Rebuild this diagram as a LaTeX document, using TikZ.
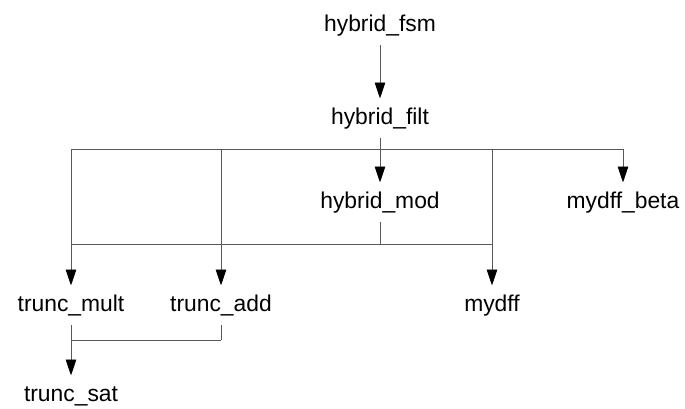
\documentclass[tikz,border=0pt]{standalone}
\usepackage{fontspec}
\setmainfont{Liberation Sans}
\usepackage{tikz}
\usetikzlibrary{arrows.meta}
\tikzset{every picture/.style={scale=1,
    every node/.style={font=\fontsize{13}{15}\selectfont, anchor=base,
      inner xsep=0pt, inner ysep=0.18cm, outer sep=0pt,
      text height=0.33cm, text depth=0.1cm}},
  wire/.style={draw=black!65, line width=0.55pt},
  call/.style={wire, -{Triangle[length=0.32cm,width=0.21cm,black]}}}

\begin{document}
\begin{tikzpicture}
        \useasboundingbox (0,0) rectangle (13.7,-8.16);

        % Define the positions of the modules
        \node (fsm)   at (7.6, -0.62)  {hybrid\_fsm};
        \node (filt)  at (7.6, -2.48)  {hybrid\_filt};
        \node (mod)   at (7.6, -4.16)  {hybrid\_mod};
        \node (beta)  at (12.46, -4.16) {mydff\_beta};
        \node (mult)  at (1.42, -6.22) {trunc\_mult};
        \node (add)   at (4.42, -6.22) {trunc\_add};
        \node (mydff) at (9.84, -6.22) {mydff};
        \node (sat)   at (1.42, -8.02) {trunc\_sat};

        % Bus lines between the levels
        \coordinate (bus1) at (7.6, -2.98);
        \coordinate (bus2) at (7.6, -4.88);
        \coordinate (bus3) at (4.42, -6.8);

        % Draw the calls
        \draw[call] (fsm) -- (filt);
        \draw[wire] (filt) -- (bus1);
        \draw[wire] (bus1 -| mult) -- (bus1 -| beta);
        \foreach \to in {mult, add, mod, mydff, beta}
          \draw[call] (bus1 -| \to) -- (\to);
        \draw[wire] (mod) -- (bus2);
        \draw[wire] (bus2 -| mult) -- (bus2 -| mydff);
        \draw[wire] (add) -- (bus3);
        \draw[wire] (bus3 -| mult) -- (bus3);
        \draw[call] (mult) -- (sat);
    \end{tikzpicture}
\end{document}
